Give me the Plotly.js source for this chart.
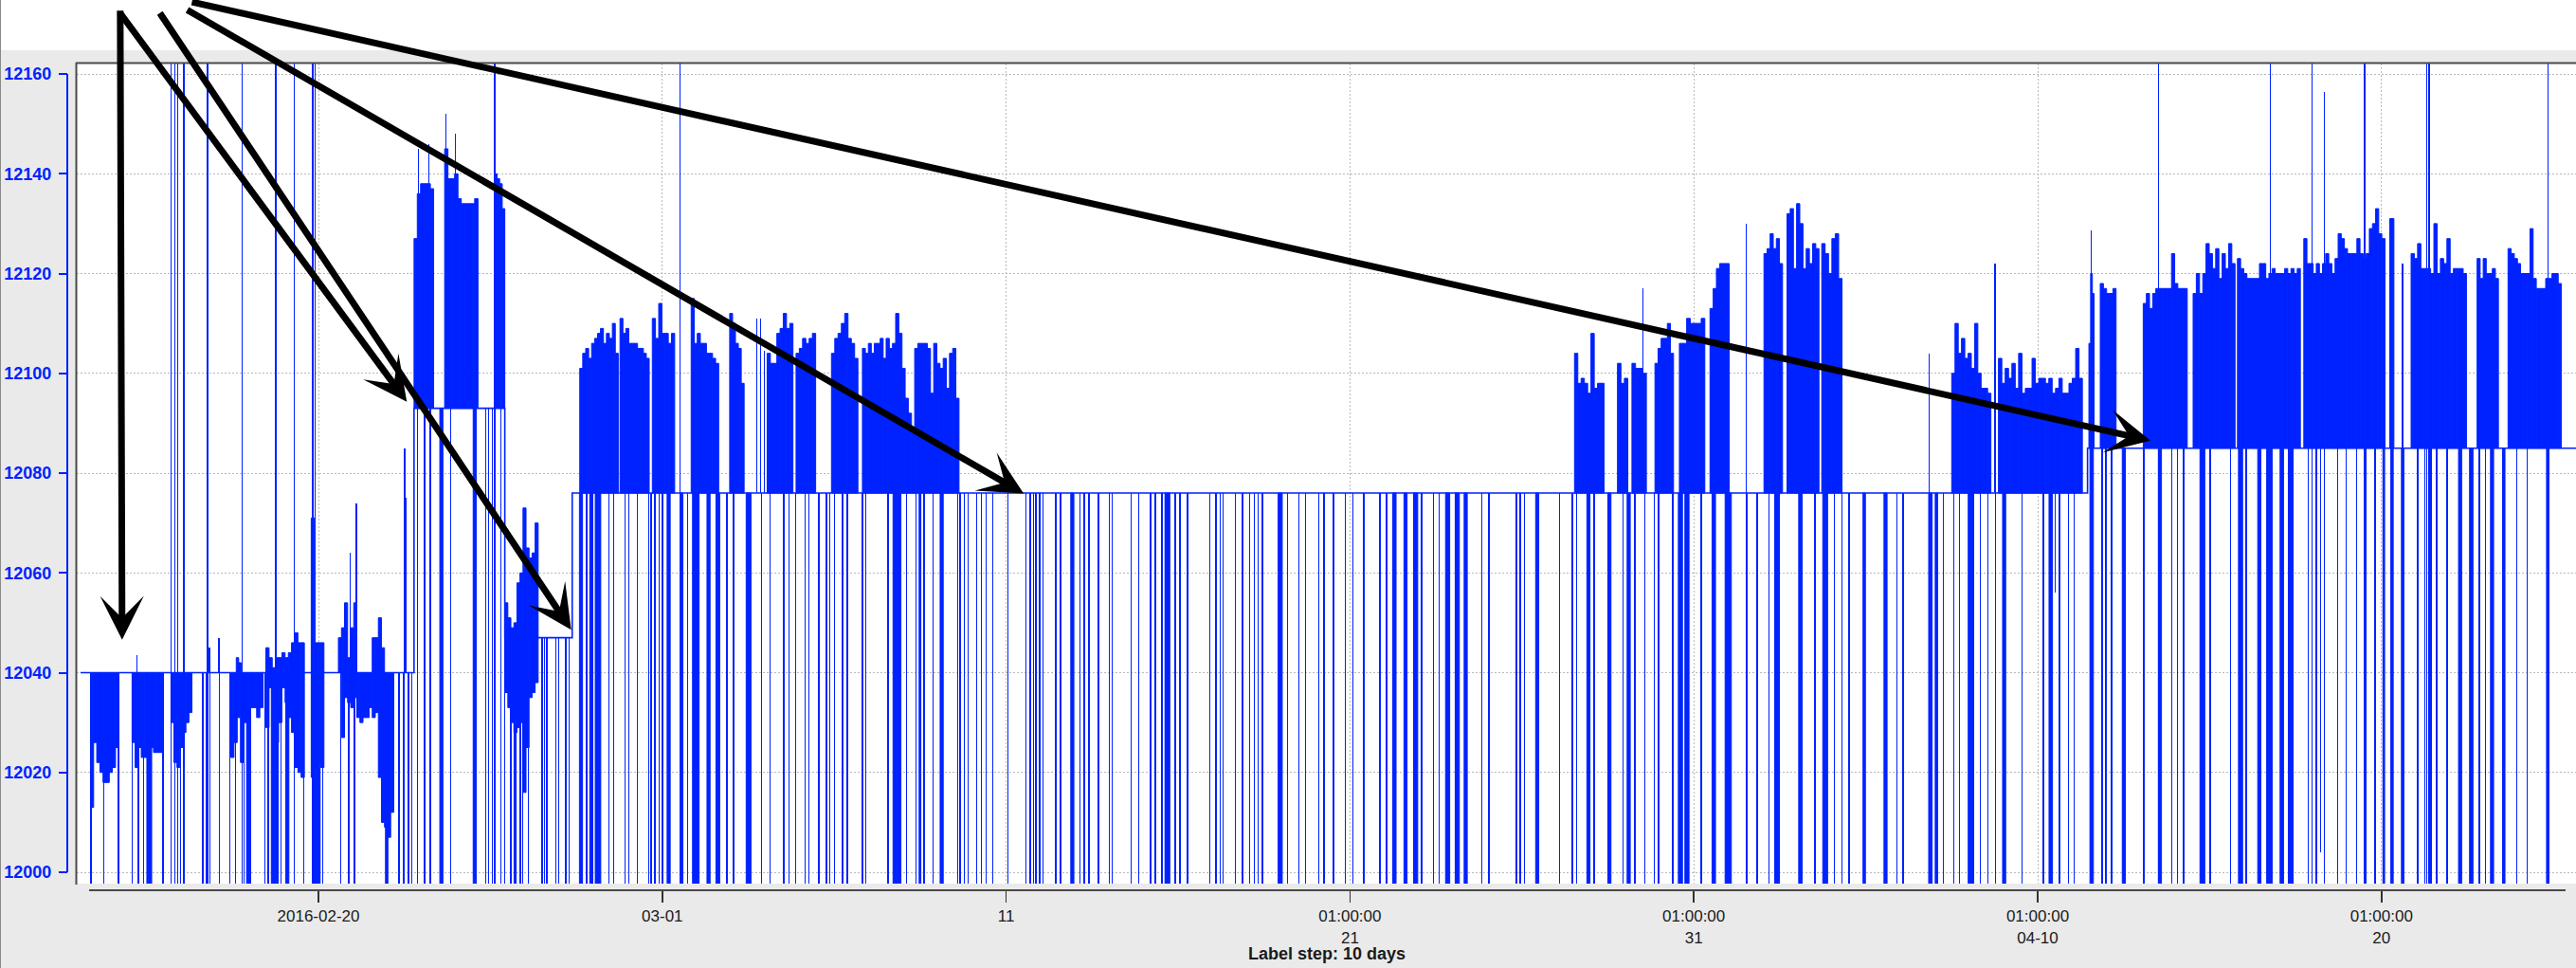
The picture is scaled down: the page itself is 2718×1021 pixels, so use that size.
<!DOCTYPE html>
<html><head><meta charset="utf-8">
<script src="https://cdn.plot.ly/plotly-3.0.1.min.js"></script>
<style>html,body{margin:0;padding:0;background:#eaeaea;overflow:hidden}#chart{width:2718px;height:1021px}</style>
</head><body><div id="chart"></div>
<script>
// ---------- DATA (time in days counted from 2016-02-20 00:00) ----------
const levelStart = [-6.92, 2.78, 5.42, 7.38, 51.45];
const levelEnd   = [2.78, 5.42, 7.38, 51.45, 65.7];
const levelValue = [12040, 12093, 12047, 12076, 12085];

// dense bursts: start day, end day, extreme values read at even steps
const burstStart = [-6.63,-5.42,-4.29,-2.55,-2.39,-1.53,-1.53,-0.21,-0.21,0.58,0.58,
  2.78,3.67,5.12,5.42,5.42,
  7.60,8.77,9.71,10.84,11.96,13.05,13.89,14.92,15.82,16.51,17.34,
  36.53,37.78,38.20,38.87,39.58,40.47,42.04,42.71,43.72,47.50,48.86,
  51.49,51.82,53.07,54.52,55.81,57.74,60.24,60.86,62.78,63.68];
const burstEnd = [-5.81,-4.53,-3.68,-1.61,-2.25,-0.41,-0.41,0.16,0.16,2.19,2.19,
  3.35,4.64,5.42,6.39,6.39,
  8.72,9.62,10.36,11.64,12.38,13.80,14.46,15.69,16.51,17.34,18.63,
  37.39,38.08,38.62,39.41,40.32,41.03,42.58,43.64,44.31,48.64,51.30,
  51.64,52.28,54.35,55.74,57.64,60.10,60.36,62.47,63.40,65.23];
const burstValues = [
  [12013,12026,12022,12020,12018,12018,12020,12021,12025],
  [12026,12021,12025,12023,12023,12022,12025,12024,12024,12024],
  [12030,12022,12021,12025,12028,12030,12032],
  [12023,12026,12031,12022,12030,12032,12033,12033,12031,12033],
  [12043,12042],
  [12045,12043,12041,12043,12043,12044,12043,12044,12046,12048,12046,12046],
  [12029,12037,12025,12026,12030,12037,12034,12031,12028,12021,12020,12019],
  [12071,12046,12046,12046],
  [12019,12020,12022,12021],
  [12047,12049,12054,12043,12049,12054,12040,12040,12040,12040,12040,12047,12047,12051,12045,12040,12040,12040],
  [12040,12027,12035,12034,12033,12035,12031,12030,12031,12031,12033,12031,12032,12019,12010,12009,12007,12012],
  [12127,12136,12138,12138,12138,12137],
  [12145,12139,12139,12140,12135,12134,12134,12134,12134,12135],
  [12140,12139,12138,12133],
  [12054,12051,12049,12050,12058,12060,12073,12065,12063,12064,12070],
  [12036,12033,12030,12028,12029,12030,12016,12025,12035,12036,12038],
  [12101,12104,12105,12103,12106,12107,12108,12109,12106,12108,12107,12110,12104],
  [12111,12108,12109,12106,12106,12106,12105,12105,12104,12103],
  [12111,12107,12114,12108,12108,12106,12108],
  [12115,12106,12108,12106,12106,12104,12104,12103,12102],
  [12112,12110,12106,12105,12098],
  [12104,12102,12102,12108,12109,12112,12109,12110],
  [12104,12105,12107,12106,12107,12108],
  [12104,12107,12108,12110,12112,12107,12106,12103],
  [12105,12104,12106,12104,12106,12106,12107,12103],
  [12107,12105,12106,12112,12108,12101,12095,12092,12088],
  [12105,12106,12106,12106,12105,12096,12106,12102,12101,12103,12097,12104,12105,12095],
  [12104,12098,12099,12098,12096,12108,12097,12098,12098],
  [12102,12098,12099],
  [12102,12101,12101,12100],
  [12102,12105,12107,12107,12110,12104],
  [12106,12106,12111,12110,12110,12110,12111],
  [12113,12117,12121,12122,12122,12122],
  [12124,12125,12128,12125,12127,12122],
  [12132,12133,12121,12134,12130,12121,12125,12122,12126,12125],
  [12126,12124,12120,12127,12128,12119],
  [12100,12110,12104,12107,12103,12104,12101,12110,12100,12097,12097,12096],
  [12103,12098,12101,12099,12102,12097,12104,12096,12097,12097,12103,12098,12099,12099,12098,12099,12096,12097,12099,12096,12096,12098,12099,12105,12099],
  [12106,12120,12116],
  [12118,12117,12116,12116,12117],
  [12114,12116,12113,12116,12117,12117,12117,12117,12117,12124,12118,12117,12117,12117],
  [12116,12120,12116,12120,12126,12124,12121,12125,12119,12124,12121,12126,12122],
  [12123,12121,12120,12119,12119,12119,12119,12122,12122,12119,12120,12121,12120,12120,12120,12121,12120,12121,12120,12121],
  [12127,12122,12122,12120,12122,12120,12122,12124,12122,12120,12123,12128,12127,12125,12124,12124,12124,12127,12124,12123,12124,12129,12130,12133,12128,12127],
  [12131],
  [12124,12123,12126,12121,12121,12121,12120,12130,12120,12123,12122,12127,12120,12121,12121,12121,12120],
  [12123,12119,12123,12120,12120,12121,12119],
  [12125,12124,12123,12122,12120,12120,12120,12129,12119,12117,12117,12117,12119,12119,12120,12120,12118]
];

// short drops to below the axis (value off-scale low)
const dropValue = 11990;
const dropDays = [-6.61,-6.24,-5.82,-5.41,-5.24,-5.08,-4.52,-4.29,-4.18,-4.01,-3.36,-3.25,-3.15,-2.88,-2.57,-2.41,-2.16,
  -1.55,-1.46,-1.18,-1.09,-0.42,0.12,0.65,0.88,1.05,2.34,2.48,2.62,2.72,2.88,3.09,3.25,3.85,4.87,4.94,5.06,5.31,5.41,
  5.59,5.87,5.94,6.10,6.50,6.57,6.64,6.91,6.98,7.19,7.29,7.80,8.45,8.59,8.91,9.03,9.28,9.61,9.68,9.79,9.91,10.00,10.74,
  11.88,12.07,12.88,13.13,13.53,13.69,13.88,14.15,14.27,14.55,14.78,14.87,15.01,15.24,15.38,15.82,15.92,16.57,17.10,
  17.38,17.61,17.87,18.59,18.66,18.79,18.89,19.14,19.28,19.42,19.61,20.05,20.58,20.70,20.79,20.86,20.98,21.07,21.44,
  21.58,22.14,22.27,22.41,22.69,23.00,23.09,23.64,23.85,24.20,24.34,24.53,24.92,25.06,25.27,25.92,26.10,26.22,26.31,
  26.66,26.87,27.08,27.22,27.33,27.45,28.19,28.52,28.70,29.10,29.24,29.52,29.87,30.08,30.40,30.87,31.06,32.08,32.43,
  32.60,33.83,34.04,34.84,34.95,35.07,36.10,36.47,36.59,37.10,37.94,38.29,38.57,38.85,38.97,39.39,40.21,41.54,41.84,
  42.19,43.52,44.08,44.31,44.52,45.90,46.09,47.25,47.56,47.72,48.33,48.56,48.77,49.54,50.17,50.64,50.89,51.06,51.87,
  51.99,52.15,53.09,53.90,54.07,54.25,55.02,55.61,56.07,57.87,58.10,58.34,58.73,58.97,59.27,59.55,59.81,61.05,61.26,
  61.44,61.61,61.91,62.84,63.03,63.94,64.24];
const dropSpanStart = [-4.99,-2.09,-1.37,-0.95,-0.14,1.95,3.53,4.50,5.69,7.59,7.89,8.05,10.14,10.53,10.88,11.30,11.56,
  12.44,16.71,17.47,18.08,21.88,24.62,27.91,31.24,31.57,31.85,32.78,33.06,33.32,35.40,36.89,37.50,38.06,39.55,39.74,
  40.53,40.91,42.35,43.05,43.75,44.92,45.53,46.83,47.02,47.98,48.98,50.33,51.52,52.46,53.51,54.72,55.84,56.40,56.66,
  57.05,57.29,60.04,60.27,60.58,62.24,62.56,63.17,63.52,64.80];
const dropSpanEnd = [-4.85,-1.97,-1.25,-0.86,0.05,2.02,3.62,4.59,5.75,7.68,7.98,8.21,10.23,10.60,11.07,11.39,11.67,
  12.58,16.94,17.52,18.17,21.97,24.76,28.03,31.34,31.66,31.97,32.90,33.18,33.41,35.49,36.98,37.59,38.15,39.67,39.86,
  40.63,41.09,42.49,43.15,43.89,44.99,45.62,46.93,47.09,48.14,49.07,50.43,51.62,52.55,53.60,54.86,55.96,56.49,56.82,
  57.15,57.43,60.09,60.34,60.65,62.33,62.66,63.26,63.59,64.87];
const partialDropDays = [50.50, 58.22];
const partialDropValues = [12056, 12004];

// spikes running over the full height (off-scale high and low)
const fullSpikeHigh = 12170;
const fullSpikeDays = [-4.28,-4.18,-4.09,-3.91,-3.23,-2.22,-1.24,-0.70,-0.16,-0.09,5.13,10.52,53.51,56.77,57.98,59.51,61.31,61.38,64.84];
// thin upward spikes
const spikeDays   = [-5.28,-3.17,-2.895,0.92,1.10,2.51,2.55,2.91,3.22,3.70,3.99,12.74,12.86,12.97,38.52,41.53,46.85,48.76,51.55,58.33,60.61];
const spikeValues = [12043.5,12045,12047,12064,12074,12085,12075,12145,12146,12152,12148,12111,12111,12104.5,12117,12130,12104,12122,12128.6,12156.4,12122];

// axis ticks
const tickDays = [0, 10, 20, 30, 40, 50, 60];
const tickLabels = ['2016-02-20', '03-01', '11', '01:00:00<br>21', '01:00:00<br>31', '01:00:00<br>04-10', '01:00:00<br>20'];
const yTicks = [12000, 12020, 12040, 12060, 12080, 12100, 12120, 12140, 12160];

// ---------- BUILD ----------
const DAY0 = Date.UTC(2016, 1, 20);
const MS = 86400000;
function toDate(d) { return new Date(DAY0 + d * MS).toISOString().replace('T', ' ').replace('Z', ''); }
function levelAt(t) {
  for (let i = 0; i < levelStart.length; i++) if (t >= levelStart[i] && t < levelEnd[i]) return levelValue[i];
  return levelValue[levelValue.length - 1];
}
function makeBars() {
  const b = { x: [], base: [], y: [], width: [] };
  b.add = (t0, t1, lo, hi) => { b.x.push(toDate((t0 + t1) / 2)); b.base.push(lo); b.y.push(hi - lo); b.width.push((t1 - t0) * MS); };
  return b;
}
const burstBars = makeBars(), lineBars = makeBars();
burstValues.forEach((vals, k) => {
  const s = burstStart[k], e = burstEnd[k], n = vals.length, w = (e - s) / n;
  const L = levelAt((s + e) / 2);
  vals.forEach((v, i) => { const t0 = s + i * w; burstBars.add(t0, t0 + w, Math.min(L, v), Math.max(L, v)); });
});
dropSpanStart.forEach((s, i) => burstBars.add(s, dropSpanEnd[i], dropValue, levelAt(s)));
dropDays.forEach(t => lineBars.add(t - 0.02, t + 0.02, dropValue, levelAt(t)));
partialDropDays.forEach((t, i) => lineBars.add(t - 0.015, t + 0.015, partialDropValues[i], levelAt(t)));
fullSpikeDays.forEach(t => lineBars.add(t - 0.02, t + 0.02, dropValue, fullSpikeHigh));
spikeDays.forEach((t, i) => lineBars.add(t - 0.017, t + 0.017, levelAt(t), spikeValues[i]));

const lx = [], ly = [];
levelStart.forEach((s, i) => { lx.push(toDate(s), toDate(levelEnd[i])); ly.push(levelValue[i], levelValue[i]); });

const BLUE = 'rgb(0,34,255)';
const traces = [
  { type: 'bar', x: burstBars.x, base: burstBars.base, y: burstBars.y, width: burstBars.width,
    marker: { color: BLUE, line: { width: 1, color: BLUE } }, hoverinfo: 'skip', showlegend: false },
  { type: 'bar', x: lineBars.x, base: lineBars.base, y: lineBars.y, width: lineBars.width,
    marker: { color: BLUE, line: { width: 0 } }, hoverinfo: 'skip', showlegend: false },
  { type: 'scatter', mode: 'lines', x: lx, y: ly, line: { color: BLUE, width: 1.6 }, hoverinfo: 'skip', showlegend: false }
];

// ---------- LAYOUT ----------
const W = 2718, H = 1021, ML = 71, MR = 0, MT = 67, MB = 82;
const PW = W - ML - MR, PH = H - MT - MB;
const px = x => (x - ML) / PW;          // pixel -> paper x
const py = y => (H - MB - y) / PH;      // pixel -> paper y
const FONT = 'Liberation Sans, Arial, sans-serif';

const arrowTipDays   = [-5.71, 2.57, 7.35, 20.51, 53.28];
const arrowTipValues = [12046.6, 12094.3, 12048.6, 12075.9, 12086.5];
const arrowAx = [-2, -304, -435, -884, -2068];
const arrowAy = [-665, -412, -652, -511, -463];
const annotations = arrowTipDays.map((d, i) => ({
  x: toDate(d), y: arrowTipValues[i], xref: 'x', yref: 'y', ax: arrowAx[i], ay: arrowAy[i], axref: 'pixel', ayref: 'pixel',
  text: '', showarrow: true, arrowhead: 3, arrowsize: 1.1, arrowwidth: 7, arrowcolor: '#000', standoff: 0, startstandoff: 0,
  font: { size: 1 }
}));
annotations.push({
  xref: 'paper', yref: 'paper', x: px(1400), y: py(1006), xanchor: 'center', yanchor: 'middle', showarrow: false,
  text: '<b>Label step: 10 days</b>', font: { family: FONT, size: 18, color: '#1a1a1a' }
});

const shapes = [
  { type: 'rect', xref: 'paper', yref: 'paper', x0: px(0), x1: px(W), y0: py(53), y1: py(0), fillcolor: '#ffffff', line: { width: 0 }, layer: 'below' },
  { type: 'line', xref: 'paper', yref: 'paper', x0: px(0.5), x1: px(0.5), y0: py(H), y1: py(0), line: { color: '#8a8a8a', width: 1 } },
  { type: 'line', xref: 'paper', yref: 'paper', x0: px(80), x1: px(W), y0: py(66.5), y1: py(66.5), line: { color: '#4a4a4a', width: 2 } },
  { type: 'line', xref: 'paper', yref: 'paper', x0: px(80.5), x1: px(80.5), y0: py(933), y1: py(66), line: { color: '#4a4a4a', width: 2 } },
  { type: 'line', xref: 'paper', yref: 'paper', x0: px(94), x1: px(2707), y0: 0, y1: 0, line: { color: '#4a4a4a', width: 2 } },
  { type: 'line', xref: 'paper', yref: 'y', x0: 0, x1: 0, y0: yTicks[0], y1: yTicks[yTicks.length - 1], line: { color: BLUE, width: 2 } }
];

const layout = {
  width: W, height: H, margin: { l: ML, r: MR, t: MT, b: MB, pad: 0 },
  paper_bgcolor: '#eaeaea', plot_bgcolor: '#ffffff', showlegend: false, barmode: 'overlay', bargap: 0,
  xaxis: {
    type: 'date', domain: [px(81), 1], anchor: 'free', position: 0,
    range: [toDate((81 - 336) / 36.28), toDate((W - 336) / 36.28)], tickmode: 'array',
    tickvals: tickDays.map(toDate), ticktext: tickLabels,
    ticks: 'outside', ticklen: 12, tickwidth: 1.5, tickcolor: '#333',
    tickfont: { family: FONT, size: 17, color: '#1a1a1a' },
    showline: false, zeroline: false, showgrid: true, gridcolor: '#b8b8b8', griddash: '2px,2px', gridwidth: 1,
    fixedrange: true
  },
  yaxis: {
    domain: [7 / PH, 1], anchor: 'free', position: 0,
    range: [11997.72, 12162.09], tickmode: 'array', tickvals: yTicks, ticktext: yTicks.map(v => '<b>' + v + '</b>'),
    ticks: 'outside', ticklen: 9, tickwidth: 2, tickcolor: BLUE, ticklabelstandoff: 4,
    tickfont: { family: FONT, size: 18, color: BLUE },
    showline: false, zeroline: false, showgrid: true, gridcolor: '#b8b8b8', griddash: '2px,2px', gridwidth: 1,
    fixedrange: true
  },
  shapes: shapes,
  annotations: annotations
};

Plotly.newPlot('chart', traces, layout, { displayModeBar: false, staticPlot: true });
</script>
</body></html>
